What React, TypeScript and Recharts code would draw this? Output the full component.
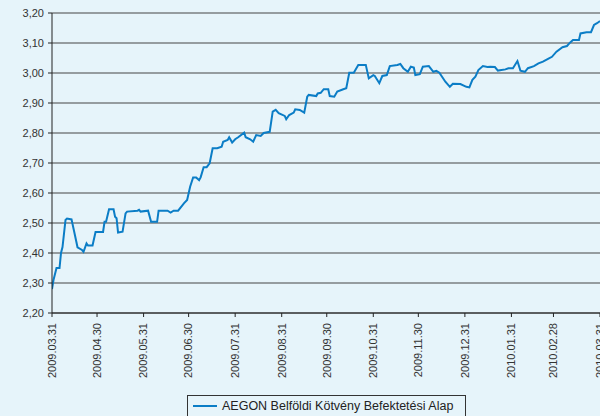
import React from "react";
import { LineChart, Line, XAxis, YAxis, CartesianGrid, Legend } from "recharts";

// days since 2009.03.31
const days = [
  0, 1, 3, 5, 6, 7, 9, 10, 13, 15, 17, 20, 21, 23, 24, 27, 29, 34, 35, 36, 38, 41, 42, 43, 44, 47, 49, 50,
  57, 58, 59, 64, 66, 70, 71, 77, 79, 81, 84, 88, 90, 92, 94, 96, 98, 99, 101, 103, 105, 107, 110, 113, 114,
  117, 118, 120, 122, 124, 128, 129, 132, 134, 136, 139, 141, 145, 147, 149, 151, 155, 156, 158, 161, 162,
  165, 168, 170, 171, 176, 177, 179, 181, 184, 185, 188, 190, 194, 196, 198, 201, 204, 209, 211, 214, 215,
  218, 220, 223, 225, 230, 232, 234, 237, 239, 241, 242, 245, 247, 251, 254, 256, 258, 262, 265, 267, 272,
  276, 278, 280, 282, 284, 287, 290, 292, 295, 297, 302, 304, 307, 310, 312, 315, 317, 321, 324, 327, 331,
  333, 336, 340, 343, 345, 347, 351, 352, 356, 359, 361, 363, 365,
];

const values = [
  2.28, 2.31, 2.35, 2.35, 2.4, 2.42, 2.51, 2.515, 2.512, 2.466, 2.419, 2.41, 2.404, 2.432, 2.425, 2.425, 2.47,
  2.47, 2.504, 2.504, 2.546, 2.546, 2.521, 2.516, 2.468, 2.471, 2.532, 2.538, 2.541, 2.544, 2.538, 2.541,
  2.504, 2.504, 2.541, 2.541, 2.535, 2.541, 2.541, 2.566, 2.577, 2.621, 2.652, 2.652, 2.643, 2.652, 2.686,
  2.686, 2.699, 2.749, 2.749, 2.754, 2.771, 2.777, 2.786, 2.768, 2.779, 2.786, 2.801, 2.786, 2.779, 2.771,
  2.793, 2.79, 2.8, 2.804, 2.871, 2.877, 2.866, 2.857, 2.846, 2.86, 2.868, 2.879, 2.877, 2.868, 2.921, 2.927,
  2.923, 2.932, 2.934, 2.946, 2.946, 2.923, 2.921, 2.938, 2.946, 2.949, 3.001, 3.001, 3.027, 3.027, 2.982,
  2.993, 2.99, 2.966, 2.99, 2.993, 3.023, 3.027, 3.03, 3.016, 3.004, 3.021, 3.018, 2.993, 2.996, 3.021,
  3.023, 3.004, 3.007, 3.001, 2.971, 2.954, 2.964, 2.963, 2.954, 2.952, 2.977, 2.988, 3.01, 3.023, 3.02,
  3.021, 3.02, 3.008, 3.012, 3.016, 3.016, 3.04, 3.008, 3.004, 3.016, 3.023, 3.032, 3.038, 3.049, 3.054,
  3.071, 3.086, 3.09, 3.101, 3.11, 3.11, 3.132, 3.136, 3.136, 3.16, 3.166, 3.173,
];

const tickDays = [0, 30, 61, 91, 122, 153, 183, 214, 244, 275, 306, 334, 365];
const tickLabels = [
  "2009.03.31", "2009.04.30", "2009.05.31", "2009.06.30", "2009.07.31", "2009.08.31", "2009.09.30",
  "2009.10.31", "2009.11.30", "2009.12.31", "2010.01.31", "2010.02.28", "2010.03.31",
];
const yTicks = [2.2, 2.3, 2.4, 2.5, 2.6, 2.7, 2.8, 2.9, 3.0, 3.1, 3.2];
const seriesName = "AEGON Belföldi Kötvény Befektetési Alap";

const data = days.map((d, i) => ({ day: d, value: values[i] }));

const FONT = "'Liberation Sans', Arial, sans-serif";
const LINE_COLOR = "#0b7dc6";

const XTick = (props: any) => {
  const { x, y, payload } = props;
  const idx = tickDays.indexOf(payload.value);
  const label = idx >= 0 ? tickLabels[idx] : "";
  return (
    <text
      x={x}
      y={y + 4}
      transform={`rotate(-90, ${x}, ${y + 4})`}
      textAnchor="end"
      dy="0.35em"
      fontSize={11}
      fontFamily={FONT}
      fill="#333"
    >
      {label}
    </text>
  );
};

const LegendContent = () => (
  <div
    style={{
      boxSizing: "border-box",
      width: 279,
      height: 26,
      border: "1px solid #333",
      background: "#e6f4fa",
      display: "flex",
      alignItems: "center",
      paddingLeft: 5,
      paddingBottom: 4,
      fontFamily: FONT,
      fontSize: 12.5,
      color: "#222",
      whiteSpace: "nowrap",
    }}
  >
    <span style={{ display: "inline-block", width: 24, height: 2, background: LINE_COLOR, marginRight: 5 }} />
    {seriesName}
  </div>
);

export default function App() {
  return (
    <div
      style={{
        position: "absolute",
        left: 0,
        top: 0,
        width: 600,
        height: 416,
        background: "#e6f4fa",
        overflow: "hidden",
      }}
    >
      <LineChart width={600} height={416} data={data} margin={{ top: 13, right: 0, left: 0, bottom: 0 }}>
        <CartesianGrid vertical={false} stroke="#444" strokeWidth={1} />
        <XAxis
          dataKey="day"
          type="number"
          domain={[0, 365]}
          ticks={tickDays}
          interval={0}
          height={83}
          tick={<XTick />}
          tickSize={4}
          axisLine={{ stroke: "#222" }}
          tickLine={{ stroke: "#222" }}
          allowDataOverflow
        />
        <YAxis
          type="number"
          domain={[2.2, 3.2]}
          ticks={yTicks}
          interval={0}
          width={52}
          tickSize={4}
          tickMargin={4}
          tickFormatter={(v: number) => v.toFixed(2).replace(".", ",")}
          tick={{ fontSize: 11, fontFamily: FONT, fill: "#333" }}
          axisLine={{ stroke: "#222" }}
          tickLine={{ stroke: "#222" }}
        />
        <Legend
          verticalAlign="bottom"
          height={20}
          content={<LegendContent />}
          wrapperStyle={{ left: 187, top: 395, bottom: "auto", width: 279, height: 20 }}
        />
        <Line
          type="linear"
          dataKey="value"
          name={seriesName}
          stroke={LINE_COLOR}
          strokeWidth={2}
          dot={false}
          isAnimationActive={false}
        />
      </LineChart>
    </div>
  );
}
